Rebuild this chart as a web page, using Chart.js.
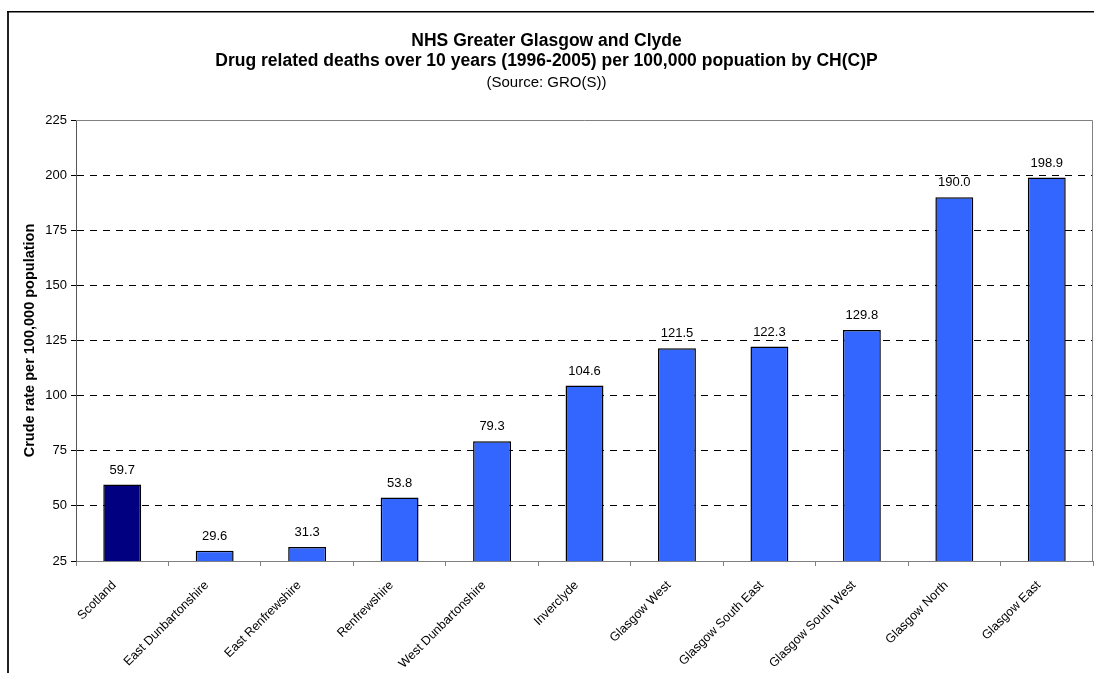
<!DOCTYPE html>
<html>
<head>
<meta charset="utf-8">
<title>Drug related deaths by CH(C)P</title>
<script src="https://cdn.jsdelivr.net/npm/chart.js@4.4.1/dist/chart.umd.min.js"></script>
<style>
  html, body { margin: 0; padding: 0; background: #fff; overflow: hidden; }
  #wrap { position: relative; width: 1094px; height: 673px; }
</style>
</head>
<body>
<div id="wrap"><canvas id="chart"></canvas></div>
<script>
// data
const categories = [
  'Scotland', 'East Dunbartonshire', 'East Renfrewshire', 'Renfrewshire',
  'West Dunbartonshire', 'Inverclyde', 'Glasgow West', 'Glasgow South East',
  'Glasgow South West', 'Glasgow North', 'Glasgow East'
];
const crudeRates = [59.7, 29.6, 31.3, 53.8, 79.3, 104.6, 121.5, 122.3, 129.8, 190.0, 198.9];
const yTicks = [25, 50, 75, 100, 125, 150, 175, 200, 225];
const titleLines = [
  'NHS Greater Glasgow and Clyde',
  'Drug related deaths over 10 years (1996-2005) per 100,000 popuation by CH(C)P'
];
const subtitleText = '(Source: GRO(S))';
const yAxisTitle = 'Crude rate per 100,000 population';

const FONT = '"Liberation Sans", Arial, Helvetica, sans-serif';
Chart.defaults.font.family = FONT;
Chart.defaults.color = '#000';

const barColors = categories.map((c, i) => i === 0 ? '#000080' : '#3366FF');

// outer frame + plot area border
const framePlugin = {
  id: 'frame',
  beforeDraw(chart) {
    const ctx = chart.ctx;
    ctx.save();
    ctx.fillStyle = '#222';
    ctx.fillRect(7, 11, 2, chart.height - 11);
    ctx.fillStyle = '#000';
    ctx.fillRect(7, 11, chart.width - 7, 1.5);
    ctx.restore();
  },
  afterDraw(chart) {
    const a = chart.chartArea;
    const ctx = chart.ctx;
    ctx.save();
    ctx.strokeStyle = '#808080';
    ctx.lineWidth = 1;
    ctx.beginPath();
    ctx.moveTo(a.left, a.top + 0.5);
    ctx.lineTo(a.right - 0.5, a.top + 0.5);
    ctx.lineTo(a.right - 0.5, a.bottom);
    ctx.stroke();
    ctx.restore();
  }
};

// value labels above each bar
const valueLabels = {
  id: 'valueLabels',
  afterDatasetsDraw(chart) {
    const ctx = chart.ctx;
    const meta = chart.getDatasetMeta(0);
    ctx.save();
    ctx.font = '13px ' + FONT;
    ctx.fillStyle = '#000';
    ctx.textAlign = 'center';
    ctx.textBaseline = 'bottom';
    meta.data.forEach((bar, i) => {
      ctx.fillText(crudeRates[i].toFixed(1), bar.x, bar.y - 8);
    });
    ctx.restore();
  }
};

new Chart(document.getElementById('chart'), {
  type: 'bar',
  data: {
    labels: categories,
    datasets: [{
      data: crudeRates,
      backgroundColor: barColors,
      borderColor: '#000',
      borderWidth: 1.5,
      borderSkipped: false,
      barPercentage: 0.41,
      categoryPercentage: 1
    }]
  },
  options: {
    responsive: true,
    maintainAspectRatio: false,
    animation: false,
    layout: { padding: { top: 20, left: 0, right: 1, bottom: 0 } },
    plugins: {
      legend: { display: false },
      tooltip: { enabled: false },
      title: {
        display: true,
        text: titleLines,
        font: { size: 17.5, weight: 'bold', lineHeight: 20 / 17.5 },
        padding: { top: 11, bottom: 0 }
      },
      subtitle: {
        display: true,
        text: subtitleText,
        font: { size: 15, weight: 'normal', lineHeight: 1.2 },
        padding: { top: 3, bottom: 28 }
      }
    },
    scales: {
      x: {
        afterFit(scale) { scale.height = 112; },
        grid: {
          offset: true,
          drawOnChartArea: false,
          drawTicks: true,
          tickLength: 5,
          color: '#808080'
        },
        border: { display: true, color: '#808080' },
        ticks: {
          autoSkip: false,
          minRotation: 45,
          maxRotation: 45,
          padding: 12,
          labelOffset: -8,
          font: { size: 12.5 }
        }
      },
      y: {
        min: 25,
        max: 225,
        afterFit(scale) { scale.width = 76; },
        afterBuildTicks(scale) { scale.ticks = yTicks.map(v => ({ value: v })); },
        grid: {
          color: ctx => (ctx.tick && (ctx.tick.value === 25 || ctx.tick.value === 225)) ? 'rgba(0,0,0,0)' : '#000',
          tickColor: '#000',
          tickLength: 5,
          lineWidth: 1
        },
        border: { display: true, color: '#555', dash: [7, 6] },
        ticks: {
          padding: 4,
          font: { size: 13 }
        },
        title: {
          display: true,
          text: yAxisTitle,
          font: { size: 14.5, weight: 'bold' },
          padding: { top: 21, bottom: 0 }
        }
      }
    }
  },
  plugins: [framePlugin, valueLabels]
});
</script>
</body>
</html>
